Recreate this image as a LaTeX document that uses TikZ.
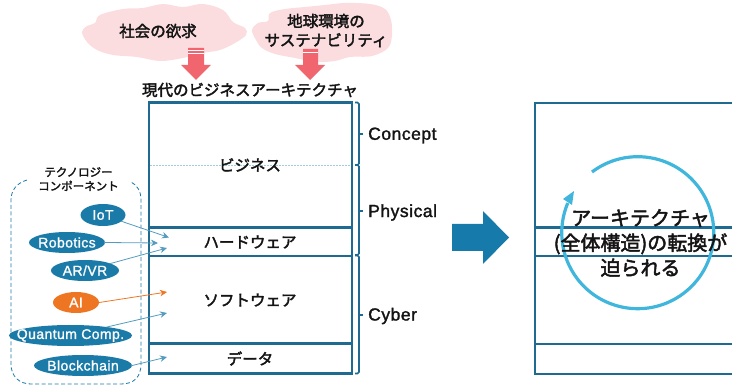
\documentclass[tikz,border=0pt]{standalone}
\usepackage{fontspec}
\setmainfont{Liberation Sans}
\newfontfamily\jpf[FakeBold=2.4]{Noto Sans CJK JP}
\newfontfamily\lat[LetterSpace=3,FakeBold=1.6]{Liberation Sans}
\newfontfamily\ellf[LetterSpace=3,FakeBold=1.2]{Liberation Sans}
\usetikzlibrary{shapes.geometric,arrows.meta}
\definecolor{frameC}{HTML}{1F6A90}
\definecolor{ellC}{HTML}{1B7BA8}
\definecolor{oraC}{HTML}{EE7623}
\definecolor{pinkC}{HTML}{F0656E}
\definecolor{cloudC}{HTML}{FBDDE0}
\definecolor{ringC}{HTML}{41B6DC}
\definecolor{bigC}{HTML}{167BAA}
\definecolor{txtC}{HTML}{141414}
\tikzset{
  frameline/.style={draw=frameC,line width=2.3pt},
  tech/.style={ellipse,fill=ellC,text=white,inner sep=-12pt,font=\ellf\fontsize{14}{16}\selectfont},
  link/.style={draw=ellC!75,line width=0.8pt,-{Stealth[length=7pt,width=6.5pt]},shorten <=-1pt},
  jp/.style={text=txtC,inner sep=0pt,align=center,font=\jpf\fontsize{15.5}{19}\selectfont},
  axis/.style={text=txtC,inner sep=0pt,anchor=west,font=\lat\fontsize{17.5}{20}\selectfont},
  brk/.style={draw=frameC,line width=1.6pt,rounded corners=1.5pt},
  cl/.style={fill=cloudC,draw=none},
  pinkarrow/.style={fill=pinkC,draw=none},
  stripe/.style={draw=white,line width=0.7pt}
}
\begin{document}
\begin{tikzpicture}[x=1pt,y=-1pt]
\useasboundingbox (0,0) rectangle (732,385);
% clouds
\fill[cl] plot[smooth cycle,tension=0.6] coordinates {(82,32) (87,26) (95,23) (100,15) (123,9) (143,8) (163,4) (183,7) (203,4) (223,10) (233,22) (245,28) (246,35) (235,43) (220,50) (203,53) (183,58) (160,61) (137,57) (113,55) (97,50) (87,42)};
\fill[cl] plot[smooth cycle,tension=0.6] coordinates {(252,30) (258,23) (268,21) (270,13) (285,9) (305,7) (325,5) (345,3) (370,4) (385,9) (391,20) (392,35) (388,48) (372,56) (350,57) (335,61) (315,62) (295,58) (275,54) (262,48) (256,40)};
\node[jp] (need) at (158,31) {社会の欲求};
\node[jp] (earth) at (326,30.5) {地球環境の\\サステナビリティ};
% pink arrows
\fill[pinkarrow] (188,48) -- (204,48) -- (204,65) -- (211,65) -- (196,80) -- (181,65) -- (188,65) -- cycle;
\draw[stripe] (188,50.5) -- (204,50.5);
\draw[stripe] (188,53) -- (204,53);
\fill[pinkarrow] (303,49) -- (318,49) -- (318,65) -- (325,65) -- (310,80) -- (295,65) -- (303,65) -- cycle;
\draw[stripe] (303,52) -- (318,52);
\node[jp] (title) at (250,90) {現代のビジネスアーキテクチャ};
% left frame
\draw[frameline] (149,102.5) rectangle (352,373.5);
\draw[frameline] (149,227.5) -- (352,227.5);
\draw[frameline] (149,256) -- (352,256);
\draw[frameline] (149,343.5) -- (352,343.5);
\draw[draw=ellC!40,line width=0.4pt,dashed,dash pattern=on 1.5pt off 1.5pt] (150,165.5) -- (351,165.5);
\node[jp] (biz) at (250,165) {ビジネス};
\node[jp] (hw) at (250,242) {ハードウェア};
\node[jp] (sw) at (250,300) {ソフトウェア};
\node[jp] (data) at (250,358.5) {データ};
% brackets
\draw[brk] (355,102.5) -- (359,102.5) -- (359,165) -- (355,165);
\draw[brk] (359,134) -- (363,134);
\draw[brk] (355,165) -- (359,165) -- (359,255) -- (355,255);
\draw[brk] (359,211) -- (363,211);
\draw[brk] (355,255.5) -- (359,255.5) -- (359,373.5) -- (355,373.5);
\draw[brk] (359,315) -- (363,315);
\node[axis] (concept) at (368,135.5) {Concept};
\node[axis] (physical) at (368,212.5) {Physical};
\node[axis] (cyber) at (368,316) {Cyber};
% dashed group
\draw[draw=ellC,line width=0.8pt,dashed,dash pattern=on 4pt off 2.5pt]
  (27,180) .. controls (17,183) and (11,190) .. (11,200) -- (11,364)
  .. controls (11,377) and (20,384) .. (31,384) -- (121,384)
  .. controls (134,384) and (141,377) .. (141,364) -- (141,200)
  .. controls (141,191) and (137,185) .. (131,182);
\node[jp,font=\jpf\fontsize{11.5}{14}\selectfont] (techtitle) at (78.5,179) {テクノロジー\\コンポーネント};
% technologies
\node[tech,minimum width=45pt,minimum height=22pt] (iot) at (103,215) {IoT};
\node[tech,minimum width=76pt,minimum height=21pt] (rob) at (67,242.5) {Robotics};
\node[tech,minimum width=68pt,minimum height=21pt] (arvr) at (85,270.5) {AR/VR};
\node[tech,fill=oraC,minimum width=46pt,minimum height=21pt] (ai) at (76,302.5) {AI};
\node[tech,minimum width=123pt,minimum height=21pt] (qc) at (70.5,335.5) {Quantum Comp.};
\node[tech,minimum width=98pt,minimum height=21pt] (bc) at (83,365.5) {Blockchain};
\coordinate (t1) at (169,237.5);
\coordinate (t2) at (158,243);
\coordinate (t3) at (167,248);
\coordinate (t4) at (167,292);
\coordinate (t5) at (167,313);
\coordinate (t6) at (167,357);
\draw[link] (iot) -- (t1);
\draw[link] (rob.east) -- (t2);
\draw[link] (arvr) -- (t3);
\draw[link,draw=oraC] (ai.east) -- (t4);
\draw[link] (qc) -- (t5);
\draw[link] (bc.east) -- (t6);
% big arrow
\fill[bigC] (452,224) -- (483,224) -- (483,211) -- (509,237.5) -- (483,264) -- (483,251) -- (452,251) -- cycle;
% right frame
\draw[frameline] (733,103) -- (535,103) -- (535,374) -- (733,374);
\draw[frameline] (535,227.5) -- (733,227.5);
\draw[frameline] (535,256) -- (733,256);
\draw[frameline] (535,344) -- (733,344);
% ring
\draw[draw=ringC,line width=3.2pt] (592,172) arc[start angle=127,end angle=-203,x radius=76,y radius=-76];
\fill[ringC] (574,191) -- (563,199) -- (572,205) -- cycle;
\node[jp,font=\jpf\fontsize{20}{25}\selectfont] (change) at (640.5,243) {アーキテクチャ\\(全体構造)の転換が\\迫られる};
\end{tikzpicture}
\end{document}
